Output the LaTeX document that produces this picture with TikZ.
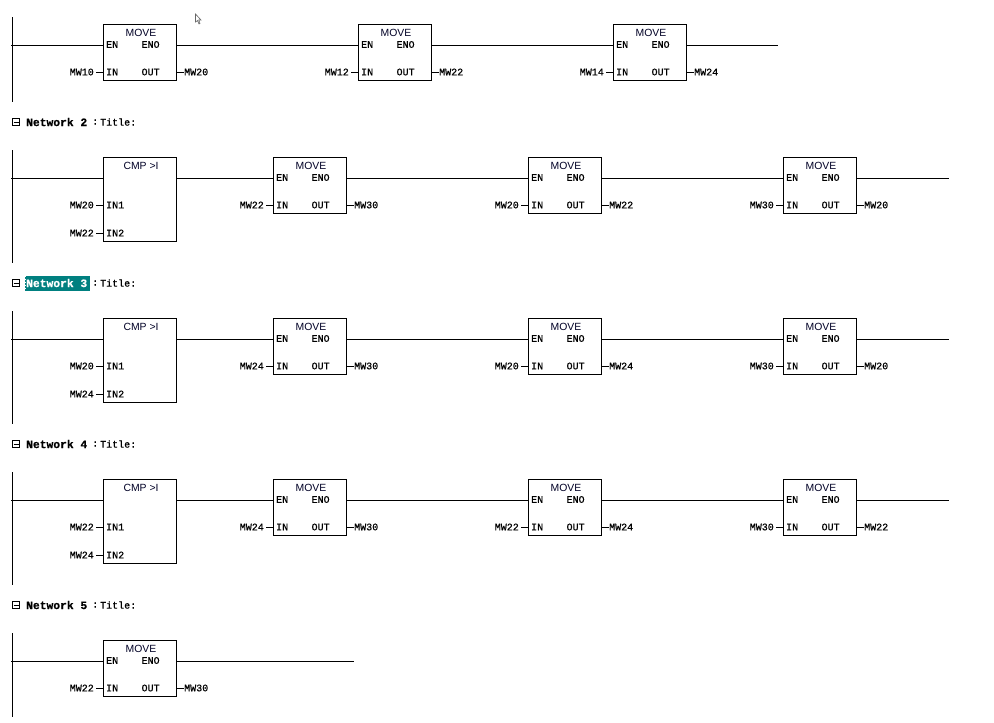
\documentclass[tikz,border=0pt]{standalone}
\usepackage{fontspec}
\setmainfont[RawFeature={embolden=0.7}]{Liberation Mono}
\newfontfamily\boxsans{Liberation Sans}
\definecolor{teal1}{HTML}{008080}
\tikzset{
  x=1pt,y=-1pt,
  wire/.style={line width=1pt,black},
  fbbox/.style={draw=black,line width=1pt,fill=white,inner sep=0pt,anchor=north west,minimum width=73pt},
  pin/.style={inner sep=0pt,font=\fontsize{10}{10}\selectfont,text=black},
  fbtitle/.style={inner sep=0pt,font=\boxsans\fontsize{10.4}{11}\selectfont,text=black!85!blue},
  nethead/.style={inner sep=0pt,anchor=west,font=\bfseries\fontsize{11.3}{12}\selectfont},
  nettitle/.style={inner sep=0pt,anchor=west,font=\fontsize{10}{10}\selectfont},
  collapse/.style={draw=black,line width=.9pt,minimum size=7pt,inner sep=0pt}
}
% name, x, top, in, out
\newcommand{\movefb}[5]{%
  \node[fbbox,minimum height=56pt] (#1) at (#2,#3) {};
  \node[fbtitle] at (#2+38,#3+8.5) {MOVE};
  \node[pin,anchor=west] at (#2+3,#3+20.5) {EN};
  \node[pin] at (#2+47.6,#3+20.5) {ENO};
  \node[pin,anchor=west] at (#2+3,#3+48) {IN};
  \node[pin] at (#2+47.6,#3+48) {OUT};
  \coordinate (#1en) at (#2,#3+21);
  \coordinate (#1eno) at (#2+73,#3+21);
  \coordinate (#1in) at (#2,#3+48);
  \coordinate (#1out) at (#2+73,#3+48);
  \node[pin,anchor=east] (#1a) at (#2-9,#3+48) {#4};
  \node[pin,anchor=west] (#1b) at (#2+81,#3+48) {#5};
  \draw[wire] (#1a.east) ++(2,0) -- (#1in);
  \draw[wire] (#1out) -- (#1b.west);
}
% name, top, in1, in2
\newcommand{\cmpfb}[4]{%
  \node[fbbox,minimum height=84pt] (#1) at (103,#2) {};
  \node[fbtitle] at (141,#2+8.5) {CMP >I};
  \node[pin,anchor=west] at (106,#2+48) {IN1};
  \node[pin,anchor=west] at (106,#2+76) {IN2};
  \coordinate (#1en) at (103,#2+21);
  \coordinate (#1eno) at (176,#2+21);
  \coordinate (#1ia) at (103,#2+48);
  \coordinate (#1ib) at (103,#2+76);
  \node[pin,anchor=east] (#1a) at (94,#2+48) {#3};
  \node[pin,anchor=east] (#1b) at (94,#2+76) {#4};
  \draw[wire] (#1a.east) ++(2,0) -- (#1ia);
  \draw[wire] (#1b.east) ++(2,0) -- (#1ib);
}
% name, y, number, colour
\newcommand{\nethead}[4]{%
  \node[collapse] (#1c) at (16,#2) {};
  \draw[line width=.9pt] (#1c.center) ++(-2.5,0) -- ++(5,0);
  \node[nethead,text=#4] (#1h) at (26,#2) {Network #3};
  \node[nettitle] (#1t) at (92,#2) {:};
  \node[nettitle] (#1u) at (100,#2) {Title:};
}
\newcommand{\cmpnet}[9]{%
  \coordinate (#1r1) at (12,#2-7);
  \coordinate (#1r2) at (12,#2+106);
  \draw[wire] (#1r1) -- (#1r2);
  \coordinate (#1s) at (11,#2+21);
  \cmpfb{#1k}{#2}{#3}{#4}
  \movefb{#1m}{273}{#2}{#5}{MW30}
  \movefb{#1n}{528}{#2}{#6}{#7}
  \movefb{#1o}{783}{#2}{#8}{#9}
  \coordinate (#1e) at (949,#2+21);
  \draw[wire] (#1s) -- (#1ken);
  \draw[wire] (#1keno) -- (#1men);
  \draw[wire] (#1meno) -- (#1nen);
  \draw[wire] (#1neno) -- (#1oen);
  \draw[wire] (#1oeno) -- (#1e);
}
\begin{document}
\begin{tikzpicture}
\useasboundingbox (0,0) rectangle (994,723);
\fill[white] (0,0) rectangle (994,723);

% Network 1 (top)
\coordinate (ar1) at (12,17);
\coordinate (ar2) at (12,102);
\coordinate (as) at (11,45);
\coordinate (ae) at (778,45);
\draw[wire] (ar1) -- (ar2);
\movefb{am}{103}{24}{MW10}{MW20}
\movefb{an}{358}{24}{MW12}{MW22}
\movefb{ao}{613}{24}{MW14}{MW24}
\draw[wire] (as) -- (amen);
\draw[wire] (ameno) -- (anen);
\draw[wire] (aneno) -- (aoen);
\draw[wire] (aoeno) -- (ae);

% mouse pointer
\draw[black!60,fill=white,line width=.6pt] (195.5,14) -- (195.5,22) -- (197.5,20.5) -- (199,24) -- (200,23.5) -- (198.8,20) -- (201,20) -- cycle;

% Network 2
\nethead{b}{122}{2}{black}
\cmpnet{b}{157}{MW20}{MW22}{MW22}{MW20}{MW22}{MW30}{MW20}

% Network 3
\fill[teal1] (25,275.5) rectangle (90,291);
\draw[white,line width=1pt,dash pattern=on 1.5pt off 1.5pt] (25,275.5) rectangle (90,291);
\nethead{c}{283}{3}{white}
\cmpnet{c}{318}{MW20}{MW24}{MW24}{MW20}{MW24}{MW30}{MW20}

% Network 4
\nethead{d}{444}{4}{black}
\cmpnet{d}{479}{MW22}{MW24}{MW24}{MW22}{MW24}{MW30}{MW22}

% Network 5
\nethead{e}{605}{5}{black}
\coordinate (er1) at (12,633);
\coordinate (er2) at (12,717);
\coordinate (es) at (11,661);
\coordinate (ee) at (354,661);
\draw[wire] (er1) -- (er2);
\movefb{em}{103}{640}{MW22}{MW30}
\draw[wire] (es) -- (emen);
\draw[wire] (emeno) -- (ee);
\end{tikzpicture}
\end{document}
